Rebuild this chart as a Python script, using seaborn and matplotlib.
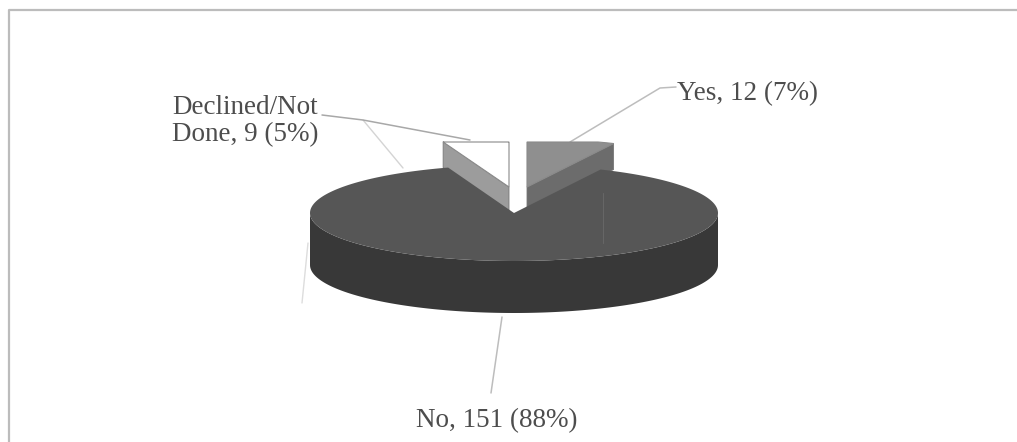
import numpy as np
import matplotlib
matplotlib.use("Agg")
import matplotlib.pyplot as plt
import seaborn as sns

# Survey responses, drawn clockwise from twelve o'clock
categories = ["Yes", "No", "Declined/Not\nDone"]
counts = [12, 151, 9]
percents = [7, 88, 5]

# Projected pie geometry, in canvas pixels
CENTER = (514, 213)
RX, RY = 204, 48
DEPTH = 52
SLICE_DEPTH = 26
SLICE_TOP = 142
OFFSETS = {"Yes": (13, -26), "No": (0, 0), "Declined/Not\nDone": (-5, -26)}
LABEL_POS = {"Yes": (677, 94), "No": (416, 421), "Declined/Not\nDone": (172, 121)}

TOP_COLORS = {"Yes": "#8f8f8f", "No": "#565656", "Declined/Not\nDone": "#ffffff"}
SIDE_COLORS = {"Yes": "#6c6c6c", "No": "#383838", "Declined/Not\nDone": "#9c9c9c"}

sns.set_theme(style="white", rc={"font.family": ["Liberation Serif", "DejaVu Serif"]})

fig, ax = plt.subplots(figsize=(10.17, 4.42), dpi=100)
ax.set_position([0, 0, 1, 1])
ax.set_xlim(0, 1017)
ax.set_ylim(442, 0)
ax.axis("off")


def rim(a0, a1, cx, cy, n=120):
    """Points on the projected rim between two clockwise angles (radians from top)."""
    t = np.linspace(a0, a1, n)
    return cx + RX * np.sin(t), cy - RY * np.cos(t)


# Angular extents follow the counts
fractions = np.array(counts) / sum(counts)
edges = np.concatenate([[0], np.cumsum(fractions)]) * 2 * np.pi
extents = dict(zip(categories, zip(edges[:-1], edges[1:])))

# Pulled-out slices sit behind the main body
for name in [categories[0], categories[2]]:
    a0, a1 = extents[name]
    dx, dy = OFFSETS[name]
    cx, cy = CENTER[0] + dx, CENTER[1] + dy
    outer = a1 if name == categories[0] else a0
    xo, yo = rim(outer, outer, cx, cy, 1)
    ax.fill([cx, xo[0], xo[0], cx], [cy, yo[0], yo[0] + SLICE_DEPTH, cy + SLICE_DEPTH],
            color=SIDE_COLORS[name], ec="#777777", lw=0.6, zorder=2)
    xr, yr = rim(a0, a1, cx, cy)
    yr = np.maximum(yr, SLICE_TOP)
    ax.fill(np.r_[cx, xr], np.r_[cy, yr], fc=TOP_COLORS[name], ec="#8a8a8a", lw=0.8, zorder=3)

# Main slice: front wall, then the top face
a0, a1 = extents[categories[1]]
front = np.linspace(np.pi / 2, 3 * np.pi / 2, 200)
xf, yf = rim(front[0], front[-1], *CENTER, n=200)
ax.fill(np.r_[xf, xf[::-1]], np.r_[yf, yf[::-1] + DEPTH],
        color=SIDE_COLORS[categories[1]], lw=0, zorder=4)
xr, yr = rim(a0, a1, *CENTER, n=300)
ax.fill(np.r_[CENTER[0], xr], np.r_[CENTER[1], yr],
        color=TOP_COLORS[categories[1]], lw=0, zorder=5)

# Leader lines from labels to slices
leader = dict(color="#bdbdbd", lw=1.1, solid_capstyle="round")
ax.plot([570, 660, 676], [142, 88, 87], zorder=1, **leader)
ax.plot([322, 363, 470], [115, 120, 140], zorder=4, color="#a8a8a8", lw=1.1)
ax.plot([363, 403], [120, 168], zorder=1, color="#d4d4d4", lw=1)
ax.plot([502, 491], [317, 393], zorder=1, **leader)
ax.plot([308, 302], [243, 303], zorder=1, color="#dddddd", lw=1)
ax.plot([603, 603], [193, 243], zorder=6, color="#666666", lw=0.8)

# Partial outer frame
ax.plot([9, 9, 1017], [442, 10, 10], color="#bcbcbc", lw=1.6, zorder=1)

# Value labels
for name, c, p in zip(categories, counts, percents):
    x, y = LABEL_POS[name]
    ax.text(x, y, f"{name}, {c} ({p}%)", fontsize=19.5, color="#4d4d4d",
            ha="left", va="center", linespacing=1.12, zorder=7)

fig.savefig("out.png", dpi=100)
